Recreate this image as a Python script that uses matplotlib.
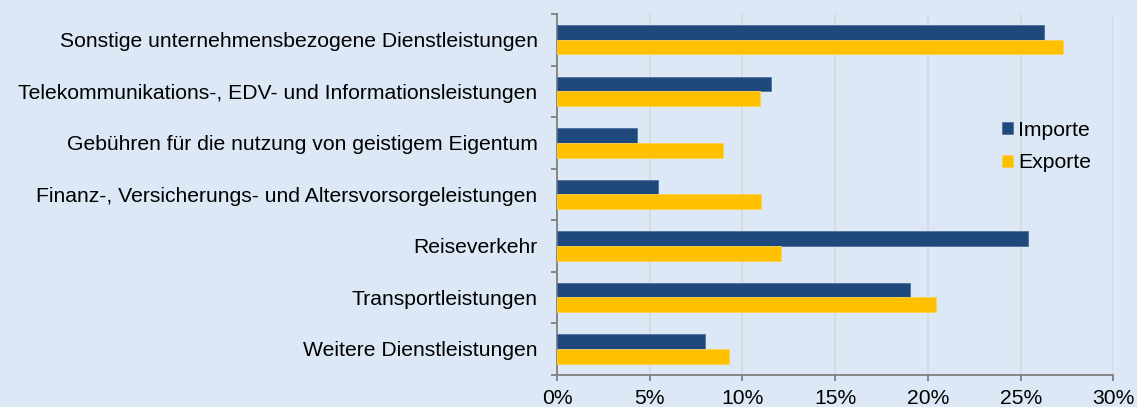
import numpy as np
import matplotlib.pyplot as plt
from matplotlib.ticker import FuncFormatter, MultipleLocator, FixedLocator

plt.rcParams['font.family'] = ['Liberation Sans', 'DejaVu Sans']

# Data (shares in %)
categories = [
    'Sonstige unternehmensbezogene Dienstleistungen',
    'Telekommunikations-, EDV- und Informationsleistungen',
    'Gebühren für die nutzung von geistigem Eigentum',
    'Finanz-, Versicherungs- und Altersvorsorgeleistungen',
    'Reiseverkehr',
    'Transportleistungen',
    'Weitere Dienstleistungen',
]
importe = [26.25, 11.52, 4.31, 5.43, 25.39, 19.06, 7.97]
exporte = [27.29, 10.93, 8.97, 11.0, 12.06, 20.46, 9.28]

bg = '#DCE8F6'
col_imp = '#1F497D'
col_exp = '#FFC000'
fs = 15.2

fig = plt.figure(figsize=(11.37, 4.07), dpi=100, facecolor=bg)
ax = fig.add_axes([0.4899, 0.0794, 0.4893, 0.8862])
ax.set_facecolor(bg)

y = np.arange(len(categories))
h = 0.285
ax.barh(y - h / 2, importe, height=h, color=col_imp, edgecolor='#4F6F9A', linewidth=0.6, label='Importe', zorder=3)
ax.barh(y + h / 2, exporte, height=h, color=col_exp, edgecolor='#FFD24D', linewidth=0.6, label='Exporte', zorder=3)

ax.set_xlim(0, 30)
ax.set_ylim(len(categories) - 0.5, -0.5)
ax.xaxis.set_major_locator(MultipleLocator(5))
ax.xaxis.set_major_formatter(FuncFormatter(lambda v, p: f'{v:.0f}%'))
ax.grid(axis='x', color='#D6D9DD', linewidth=1.4, zorder=0)

# category labels, boundary ticks as minor ticks
ax.set_yticks(y)
ax.set_yticklabels(categories, fontsize=fs)
ax.tick_params(axis='y', length=0, pad=14)
ax.yaxis.set_minor_locator(FixedLocator(np.arange(-0.5, len(categories), 1)))
ax.tick_params(axis='y', which='minor', length=4.5, color='#868686', width=1.4)
ax.tick_params(axis='x', length=4, color='#868686', width=1.4, labelsize=fs, pad=6.5)

for s in ['top', 'right']:
    ax.spines[s].set_visible(False)
for s in ['left', 'bottom']:
    ax.spines[s].set_color('#868686')
    ax.spines[s].set_linewidth(1.4)

ax.legend(loc='center left', bbox_to_anchor=(1002 / 1137, 1 - 146.5 / 407),
          bbox_transform=fig.transFigure, frameon=False, fontsize=fs,
          handlelength=0.5, handleheight=0.5, handletextpad=0.25, labelspacing=0.62,
          borderaxespad=0, borderpad=0)

fig.savefig('out.png', dpi=100, facecolor=bg)
